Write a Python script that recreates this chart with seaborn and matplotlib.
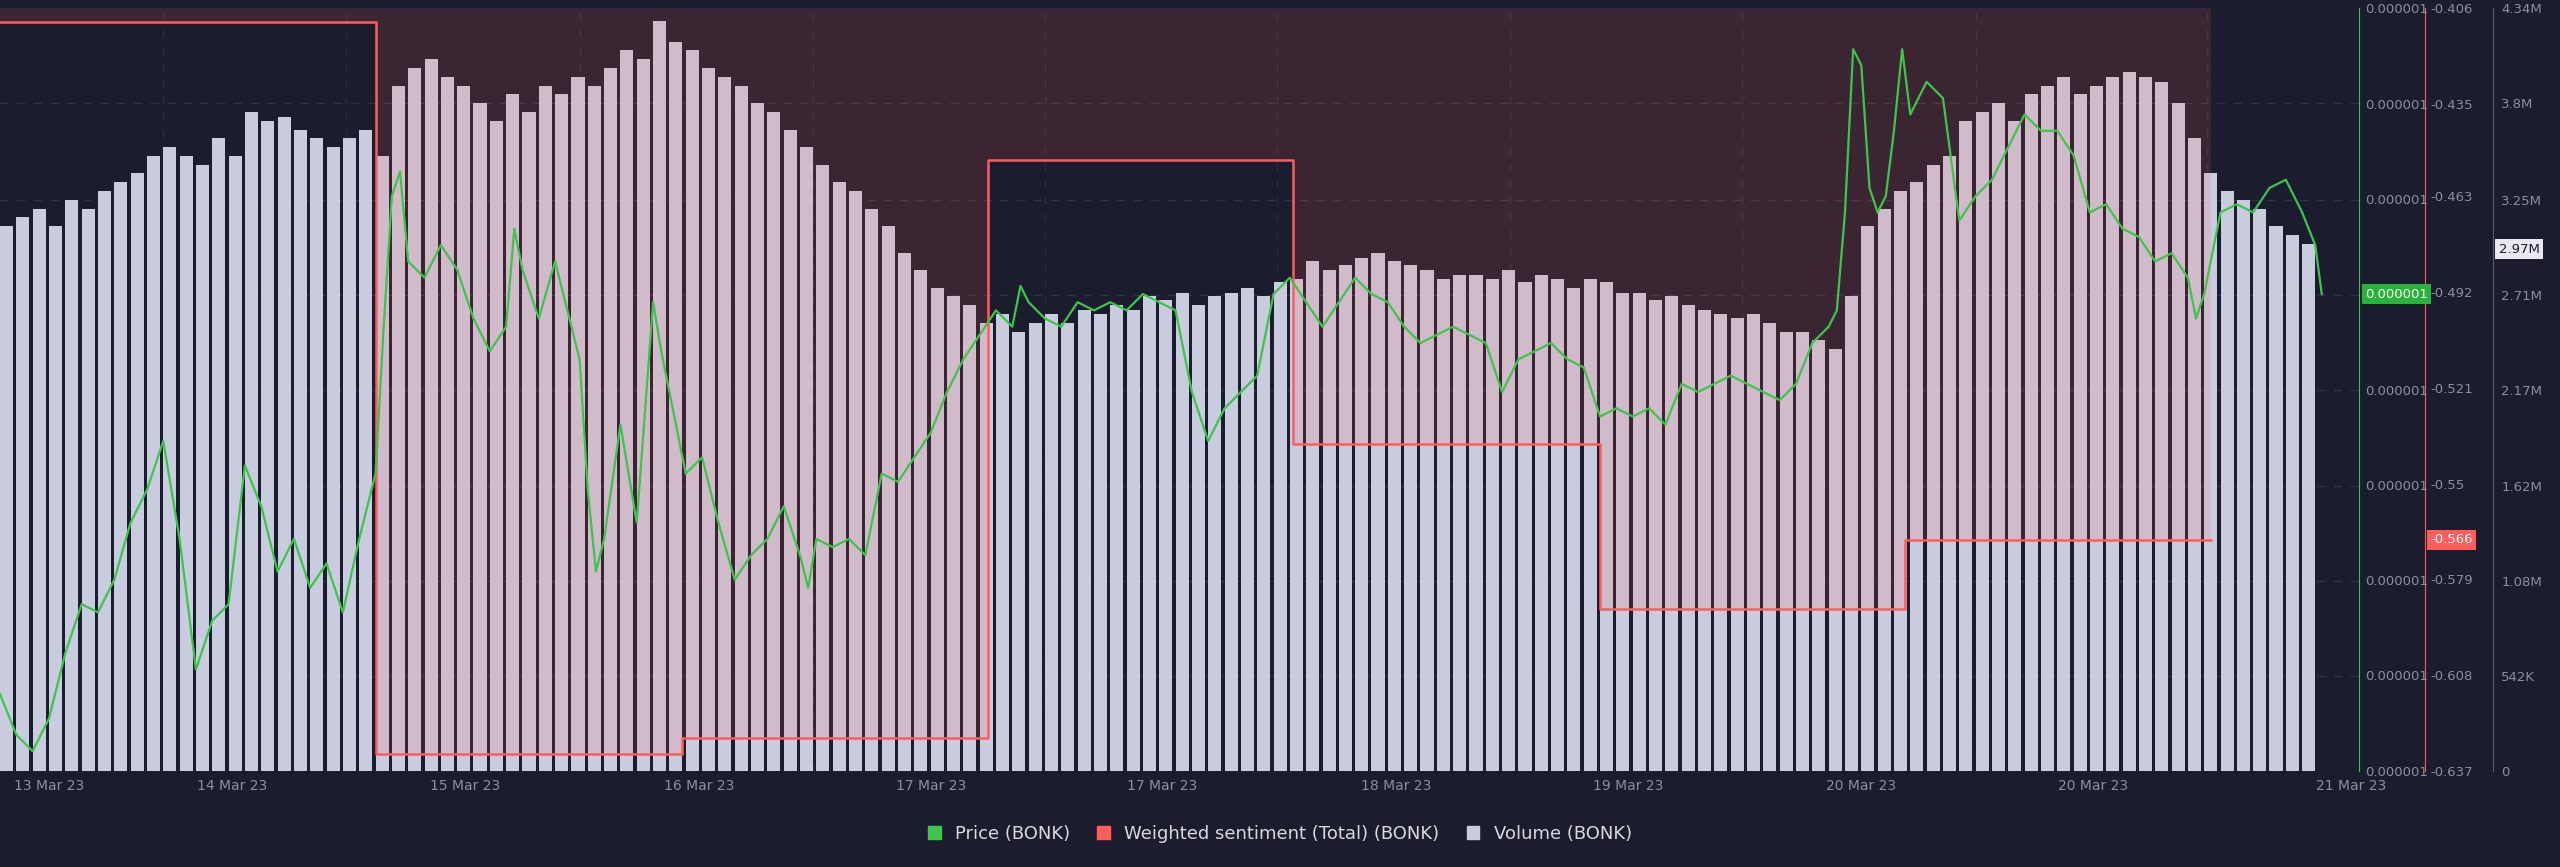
import numpy as np
import pandas as pd
import matplotlib
matplotlib.use("Agg")
import matplotlib.pyplot as plt
import seaborn as sns
from matplotlib.patches import Patch
from matplotlib.ticker import FixedLocator

# ---- data (time axis in chart units; one unit ~ 1/142 day) ----
VOL_T = list(range(0, 1420, 10))
VOLUME_M = [3.1,3.15,3.2,3.1,3.25,3.2,3.3,3.35,3.4,3.5,
            3.55,3.5,3.45,3.6,3.5,3.75,3.7,3.72,3.65,3.6,
            3.55,3.6,3.65,3.5,3.9,4.0,4.05,3.95,3.9,3.8,
            3.7,3.85,3.75,3.9,3.85,3.95,3.9,4.0,4.1,4.05,
            4.27,4.15,4.1,4.0,3.95,3.9,3.8,3.75,3.65,3.55,
            3.45,3.35,3.3,3.2,3.1,2.95,2.85,2.75,2.7,2.65,
            2.55,2.6,2.5,2.55,2.6,2.55,2.62,2.6,2.65,2.62,
            2.7,2.68,2.72,2.65,2.7,2.72,2.75,2.7,2.78,2.8,
            2.9,2.85,2.88,2.92,2.95,2.9,2.88,2.85,2.8,2.82,
            2.82,2.8,2.85,2.78,2.82,2.8,2.75,2.8,2.78,2.72,
            2.72,2.68,2.7,2.65,2.62,2.6,2.58,2.6,2.55,2.5,
            2.5,2.45,2.4,2.7,3.1,3.2,3.3,3.35,3.45,3.5,
            3.7,3.75,3.8,3.7,3.85,3.9,3.95,3.85,3.9,3.95,
            3.98,3.95,3.92,3.8,3.6,3.4,3.3,3.25,3.2,3.1,
            3.05,3.0]

SENT_T = [0, 230, 418, 605, 792, 980, 1167, 1354]
SENTIMENT = [-0.410, -0.632, -0.627, -0.452, -0.538, -0.588, -0.567, -0.567]

PRICE_T = [0,10,20,30,40,50,60,70,80,90,100,110,120,130,140,150,160,170,180,190,200,210,220,230,235,240,245,250,260,270,280,290,300,310,315,320,330,340,350,355,360,365,370,380,390,400,405,410,420,430,440,450,460,470,480,490,495,500,510,520,530,540,550,560,570,580,590,600,610,620,625,630,640,650,660,670,680,690,700,710,720,730,740,750,760,770,780,790,800,810,820,830,840,850,860,870,880,890,900,910,920,930,940,950,960,970,980,990,1000,1010,1020,1030,1040,1050,1060,1070,1080,1090,1100,1110,1120,1125,1130,1135,1140,1145,1150,1155,1160,1165,1170,1180,1190,1200,1210,1220,1230,1240,1250,1260,1270,1280,1290,1300,1310,1320,1330,1340,1345,1350,1360,1370,1380,1390,1400,1410,1418,1422]
PRICE_U = [.897,.872,.862,.882,.922,.952,.947,.967,1.002,1.022,1.052,.992,.912,.942,.952,1.037,1.012,.972,.992,.962,.977,.947,.992,1.032,1.122,1.202,1.217,1.162,1.152,1.172,1.157,1.127,1.107,1.122,1.182,1.157,1.127,1.162,1.122,1.102,1.022,.972,.992,1.062,1.002,1.137,1.107,1.082,1.032,1.042,1.002,.967,.982,.992,1.012,.982,.962,.992,.987,.992,.982,1.032,1.027,1.042,1.057,1.082,1.102,1.117,1.132,1.122,1.147,1.137,1.127,1.122,1.137,1.132,1.137,1.132,1.142,1.137,1.132,1.082,1.052,1.072,1.082,1.092,1.142,1.152,1.137,1.122,1.137,1.152,1.142,1.137,1.122,1.112,1.117,1.122,1.117,1.112,1.082,1.102,1.107,1.112,1.102,1.097,1.067,1.072,1.067,1.072,1.062,1.087,1.082,1.087,1.092,1.087,1.082,1.077,1.087,1.112,1.122,1.132,1.192,1.292,1.282,1.207,1.192,1.202,1.242,1.292,1.252,1.272,1.262,1.187,1.202,1.212,1.232,1.252,1.242,1.242,1.227,1.192,1.197,1.182,1.177,1.162,1.167,1.152,1.127,1.142,1.192,1.197,1.192,1.207,1.212,1.192,1.172,1.142]

DAY_T = [30, 142, 285, 428, 570, 712, 855, 997, 1140, 1282, 1440]
DAY_LABELS = ["13 Mar 23", "14 Mar 23", "15 Mar 23", "16 Mar 23", "17 Mar 23", "17 Mar 23",
              "18 Mar 23", "19 Mar 23", "20 Mar 23", "20 Mar 23", "21 Mar 23"]
VOL_TICKS = [0, 0.542, 1.08, 1.62, 2.17, 2.71, 3.25, 3.8, 4.34]
VOL_TICK_LABELS = ["0", "542K", "1.08M", "1.62M", "2.17M", "2.71M", "3.25M", "3.8M", "4.34M"]
SENT_TICKS = [-0.637, -0.608, -0.579, -0.55, -0.521, -0.492, -0.463, -0.435, -0.406]

BG = "#1b1c2d"
GREEN = "#3ec44a"
RED = "#ff5c5c"
BARC = "#c9ccdf"
TXT = "#8b8fa3"

fig = plt.figure(figsize=(25.6, 8.67), dpi=100, facecolor=BG)
XMAX = 1445
ax_v = fig.add_axes([0.0, 0.111, 0.9216, 0.8794])
ax_v.set_facecolor(BG)
ax_s = ax_v.twinx()
ax_p = ax_v.twinx()

vol_df = pd.DataFrame({"t": VOL_T, "v": VOLUME_M})
ax_v.bar(vol_df["t"], vol_df["v"], width=8, color=BARC, align="edge", zorder=2)
ax_v.set_ylim(0, 4.34)
ax_v.set_xlim(0, XMAX)
for y in VOL_TICKS[1:-1]:
    ax_v.axhline(y, color="#30324a", lw=1, ls=(0, (6, 6)), zorder=1)
for x in DAY_T[:-1]:
    ax_v.axvline(x + 70, color="#2a2c40", lw=1, ls=(0, (6, 6)), zorder=1)

# sentiment
sent_df = pd.DataFrame({"t": SENT_T, "s": SENTIMENT})
ax_s.set_ylim(-0.637, -0.406)
ax_s.fill_between(SENT_T, SENTIMENT, -0.406, step="post", color=RED, alpha=0.15, lw=0, zorder=3)
sns.lineplot(data=sent_df, x="t", y="s", ax=ax_s, color=RED, lw=1.8, drawstyle="steps-post", zorder=4)

# price
price_df = pd.DataFrame({"t": PRICE_T, "p": PRICE_U})
sns.lineplot(data=price_df, x="t", y="p", ax=ax_p, color=GREEN, lw=1.6, zorder=5)
ax_p.set_ylim(0.85, 1.317)

for a in (ax_v, ax_s, ax_p):
    a.set_xlim(0, XMAX)
    a.set_xlabel(""); a.set_ylabel("")
    for sp in ("left", "top", "bottom"):
        a.spines[sp].set_visible(False)
    a.tick_params(axis="y", colors=TXT, labelsize=9.5, length=0, pad=4)

ax_p.spines["right"].set_position(("axes", 1.0))
ax_p.spines["right"].set_color(GREEN)
ax_p.yaxis.set_major_locator(FixedLocator(np.linspace(0.85, 1.317, 9)))
ax_p.set_yticklabels(["0.000001"] * 9)
ax_s.spines["right"].set_position(("axes", 1.0277))
ax_s.spines["right"].set_color(RED)
ax_s.set_yticks(SENT_TICKS)
ax_s.set_yticklabels([f"{v:g}" for v in SENT_TICKS])
ax_v.yaxis.tick_right()
ax_v.spines["right"].set_visible(True)
ax_v.spines["right"].set_position(("axes", 1.0567))
ax_v.spines["right"].set_color("#5a5d70")
ax_v.set_yticks(VOL_TICKS)
ax_v.set_yticklabels(VOL_TICK_LABELS)
ax_v.tick_params(axis="y", colors=TXT, labelsize=9.5, length=0, pad=6)
ax_v.set_xticks(DAY_T)
ax_v.set_xticklabels(DAY_LABELS)
ax_v.tick_params(axis="x", colors=TXT, labelsize=10, length=0, pad=6)
for a in (ax_s, ax_p):
    a.tick_params(axis="x", bottom=False, labelbottom=False)

# value badges
ax_p.annotate("0.000001", xy=(1.0, 1.142), xycoords=("axes fraction", "data"), xytext=(4, 0),
              textcoords="offset points", va="center", ha="left", fontsize=9.5, color="white",
              bbox=dict(boxstyle="square,pad=0.25", fc="#28b33a", ec="none"))
ax_s.annotate("-0.566", xy=(1.0277, -0.567), xycoords=("axes fraction", "data"), xytext=(4, 0),
              textcoords="offset points", va="center", ha="left", fontsize=9.5, color="white",
              bbox=dict(boxstyle="square,pad=0.25", fc=RED, ec="none"))
ax_v.annotate("2.97M", xy=(1.0567, 2.97), xycoords=("axes fraction", "data"), xytext=(4, 0),
              textcoords="offset points", va="center", ha="left", fontsize=9.5, color="#1b1c2d",
              bbox=dict(boxstyle="square,pad=0.25", fc="#e8e9f0", ec="none"))

handles = [Patch(color=GREEN, label="Price (BONK)"),
           Patch(color=RED, label="Weighted sentiment (Total) (BONK)"),
           Patch(color=BARC, label="Volume (BONK)")]
leg = fig.legend(handles=handles, loc="center", bbox_to_anchor=(0.5, 0.038), ncol=3, frameon=False,
                 fontsize=13, labelcolor="#d8d9e2", handlelength=0.7, handleheight=0.7, columnspacing=1.5)

fig.savefig("out.png", dpi=100, facecolor=BG)
